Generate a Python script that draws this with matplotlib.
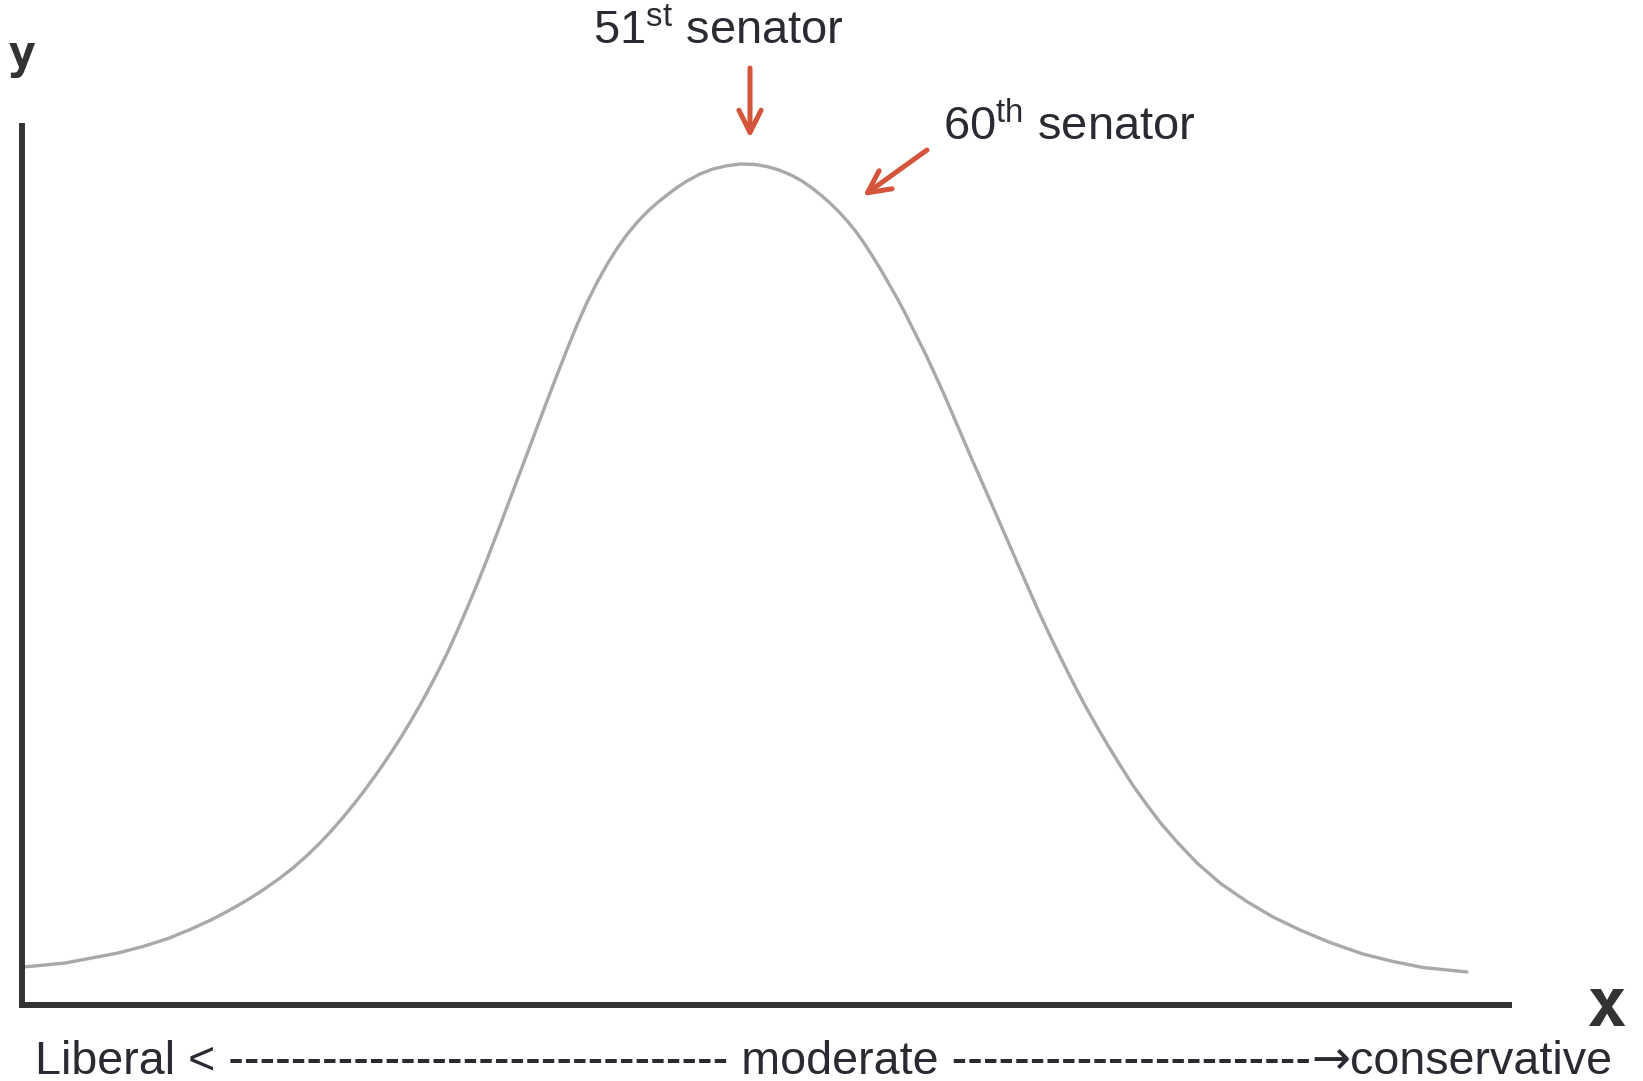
import matplotlib
matplotlib.use("Agg")
from matplotlib import pyplot as plt

plt.rcParams['font.family'] = ['Liberation Sans', 'DejaVu Sans']
plt.rcParams['mathtext.fontset'] = 'custom'
plt.rcParams['mathtext.rm'] = 'Liberation Sans'

# curve: distance right of the y axis, height above the x axis
curve_x = [1, 23, 43, 67, 96, 121, 146, 167, 189, 207,
           224, 240, 257, 271, 285, 298, 310, 321, 332, 342,
           353, 362, 371, 380, 389, 397, 404, 411, 418, 425,
           435, 445, 455, 465, 475, 485, 495, 505, 515, 525,
           535, 545, 555, 565, 575, 585, 595, 605, 615, 625,
           635, 645, 655, 665, 678, 691, 705, 719,
           733, 745, 757, 769, 780, 790, 800, 809, 818, 827,
           835, 843, 851, 859, 867, 875, 883, 890, 897, 904,
           910, 916, 921, 926, 932, 938, 944, 950, 956, 962,
           968, 973, 979, 985, 990, 996, 1002, 1008, 1014, 1021,
           1031, 1040, 1050, 1062, 1074, 1086, 1098, 1111, 1125, 1139,
           1156, 1175, 1198, 1224, 1251, 1278, 1308, 1341, 1371, 1401,
           1445]
curve_y = [37.5, 39.5, 41.5, 46, 51.5, 58, 66, 74.5, 84.5, 94,
           103.7, 113.8, 125.7, 136.6, 148.9, 161.6, 174.4, 187.1, 200.5, 213.4,
           228.4, 241.3, 254.8, 268.9, 283.8, 297.6, 310.2, 323.3, 336.9, 351,
           373, 396, 420, 445, 471, 497.5, 524, 550.5, 577, 603.5,
           629.5, 655, 679.5, 702, 722, 740, 756, 770, 782, 792.5,
           801.5, 809.5, 817, 823.5, 830.5, 835.5, 838.8, 840.5,
           840, 838, 834.5, 829.5, 823.5, 816.5, 808.5, 800.5, 791.5, 781.5,
           771.5, 760, 747.5, 734.5, 720.5, 706.5, 691.5, 677.5, 663.5, 649.5,
           636.5, 623.5, 612.5, 601, 587, 573, 559, 545, 531.5, 517.8,
           504.2, 492.7, 479, 465.2, 453.7, 440, 426.3, 412.7, 399, 383.5,
           362.5, 344, 324, 301, 279.5, 259, 239.5, 219, 199.5, 181,
           161.5, 141.5, 121.5, 103.5, 87.5, 74.5, 62, 50.5, 43, 37,
           32.5]

# senators: label, arrow tip, arrow tail, label position
senator_labels = ['51$^{\\mathrm{st}}$ senator', '60$^{\\mathrm{th}}$ senator']
arrow_tips = [(728, 866.5), (841, 808.5)]
arrow_tails = [(728, 936.5), (905, 854.5)]
label_pos = [(571, 960.5), (921, 864.5)]

scale_left = 'Liberal < ' + '-' * 32 + ' moderate ' + '-' * 23
scale_arrow = '\u2192'
scale_right = 'conservative'

W, H = 1643, 1081
fig = plt.figure(figsize=(W / 100, H / 100), dpi=100)
ax = fig.add_axes([22 / W, (H - 1004.5) / H, (1509 - 22) / W, (1004.5 - 126) / H])
ax.set_xlim(0, 1487)
ax.set_ylim(0, 878.5)
ax.set_xticks([])
ax.set_yticks([])
for side in ['top', 'right']:
    ax.spines[side].set_visible(False)
for side in ['left', 'bottom']:
    ax.spines[side].set_linewidth(4.3)
    ax.spines[side].set_color('#333333')

ax.plot(curve_x, curve_y, color='#a9a9a9', lw=2.4, solid_capstyle='round',
        solid_joinstyle='round', clip_on=False)

red = '#d4553b'
ink = '#2a2a33'
for lab, tip, tail, pos in zip(senator_labels, arrow_tips, arrow_tails, label_pos):
    ax.annotate('', xy=tip, xytext=tail, annotation_clip=False,
                arrowprops=dict(arrowstyle='->,head_length=0.8,head_width=0.4',
                                mutation_scale=20, lw=3.6, color=red,
                                shrinkA=0, shrinkB=0, capstyle='round'))
    ax.text(pos[0], pos[1], lab, fontsize=33.8, color=ink, ha='left', va='baseline',
            clip_on=False)

# bottom scale: text, then a wider arrow glyph, then the last word
fs = 33.6
t1 = ax.text(13, -69.5, scale_left, fontsize=fs, color=ink, ha='left', va='baseline',
             clip_on=False)
t2 = ax.annotate(scale_arrow, xy=(1, 0), xycoords=t1, ha='left', va='bottom',
                 fontsize=fs, color=ink, family=['DejaVu Sans'], annotation_clip=False)
ax.annotate(scale_right, xy=(1, 0), xycoords=t2, ha='left', va='bottom',
            fontsize=fs, color=ink, annotation_clip=False)

ax.text(0, 936.5, 'y', fontsize=34, color='#333333', family='DejaVu Sans Mono',
        weight='bold', ha='center', va='baseline', clip_on=False)
ax.text(1584, -21.5, 'x', fontsize=48, color='#333333', family='DejaVu Sans Mono',
        weight='bold', ha='center', va='baseline', clip_on=False)

fig.savefig('out.png', dpi=100)
